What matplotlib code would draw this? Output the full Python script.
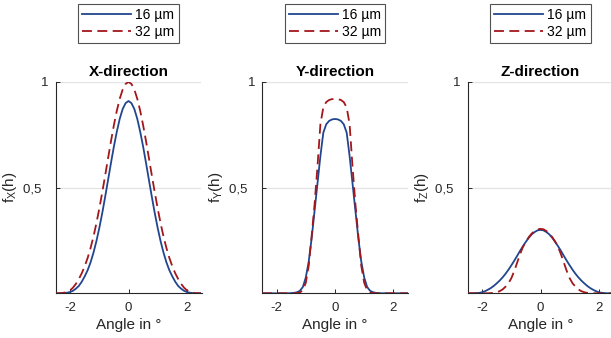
import matplotlib
matplotlib.use('Agg')
import matplotlib.pyplot as plt

plt.rcParams['font.family'] = ['Liberation Sans', 'DejaVu Sans']
plt.rcParams['mathtext.fontset'] = 'custom'
plt.rcParams['mathtext.rm'] = 'Liberation Sans'
plt.rcParams['axes.unicode_minus'] = False

# -----------------------
# data
# -----------------------
angle = [-2.5, -2.4, -2.3, -2.2, -2.1, -2.0, -1.9, -1.8, -1.7, -1.6, -1.5, -1.4, -1.3,
         -1.2, -1.1, -1.0, -0.9, -0.8, -0.7, -0.6, -0.5, -0.4, -0.3, -0.2, -0.1, 0.0,
         0.1, 0.2, 0.3, 0.4, 0.5, 0.6, 0.7, 0.8, 0.9, 1.0, 1.1, 1.2, 1.3,
         1.4, 1.5, 1.6, 1.7, 1.8, 1.9, 2.0, 2.1, 2.2, 2.3, 2.4, 2.5]

x_16 = [0.000, 0.000, 0.000, 0.001, 0.003, 0.006, 0.012, 0.022, 0.035, 0.055, 0.080, 0.109, 0.146,
        0.192, 0.246, 0.309, 0.379, 0.456, 0.536, 0.617, 0.695, 0.765, 0.826, 0.872, 0.900, 0.910,
        0.900, 0.872, 0.826, 0.765, 0.695, 0.617, 0.536, 0.456, 0.379, 0.309, 0.246, 0.192, 0.146,
        0.109, 0.080, 0.055, 0.035, 0.022, 0.012, 0.006, 0.003, 0.001, 0.000, 0.000, 0.000]
x_32 = [0.000, 0.000, 0.001, 0.003, 0.007, 0.014, 0.027, 0.045, 0.068, 0.095, 0.128, 0.167, 0.214,
        0.268, 0.331, 0.401, 0.477, 0.557, 0.639, 0.720, 0.796, 0.864, 0.921, 0.964, 0.991, 1.000,
        0.991, 0.964, 0.921, 0.864, 0.796, 0.720, 0.639, 0.557, 0.477, 0.401, 0.331, 0.268, 0.214,
        0.167, 0.128, 0.095, 0.068, 0.045, 0.027, 0.014, 0.007, 0.003, 0.001, 0.000, 0.000]

y_16 = [0.000, 0.000, 0.000, 0.000, 0.000, 0.000, 0.000, 0.000, 0.000, 0.000, 0.001, 0.002, 0.005,
        0.012, 0.030, 0.075, 0.150, 0.260, 0.390, 0.520, 0.650, 0.760, 0.800, 0.816, 0.823, 0.825,
        0.823, 0.816, 0.800, 0.760, 0.650, 0.520, 0.390, 0.260, 0.150, 0.075, 0.030, 0.012, 0.005,
        0.002, 0.001, 0.000, 0.000, 0.000, 0.000, 0.000, 0.000, 0.000, 0.000, 0.000, 0.000]
y_32 = [0.000, 0.000, 0.000, 0.000, 0.000, 0.000, 0.000, 0.000, 0.000, 0.000, 0.000, 0.000, 0.001,
        0.004, 0.015, 0.050, 0.130, 0.270, 0.420, 0.600, 0.800, 0.880, 0.905, 0.915, 0.919, 0.920,
        0.919, 0.915, 0.905, 0.880, 0.800, 0.600, 0.420, 0.270, 0.130, 0.050, 0.015, 0.004, 0.001,
        0.000, 0.000, 0.000, 0.000, 0.000, 0.000, 0.000, 0.000, 0.000, 0.000, 0.000, 0.000]

z_16 = [0.000, 0.000, 0.000, 0.001, 0.002, 0.005, 0.010, 0.017, 0.025, 0.035, 0.047, 0.060, 0.075,
        0.092, 0.111, 0.132, 0.154, 0.177, 0.201, 0.223, 0.244, 0.263, 0.279, 0.290, 0.298, 0.300,
        0.298, 0.290, 0.279, 0.263, 0.244, 0.223, 0.201, 0.177, 0.154, 0.132, 0.111, 0.092, 0.075,
        0.060, 0.047, 0.035, 0.025, 0.017, 0.010, 0.005, 0.002, 0.001, 0.000, 0.000, 0.000]
z_32 = [0.000, 0.000, 0.000, 0.000, 0.000, 0.000, 0.000, 0.000, 0.001, 0.002, 0.005, 0.010, 0.018,
        0.031, 0.047, 0.071, 0.105, 0.145, 0.185, 0.220, 0.245, 0.266, 0.283, 0.295, 0.303, 0.305,
        0.303, 0.295, 0.283, 0.266, 0.245, 0.220, 0.185, 0.145, 0.105, 0.071, 0.047, 0.031, 0.018,
        0.010, 0.005, 0.002, 0.001, 0.000, 0.000, 0.000, 0.000, 0.000, 0.000, 0.000, 0.000]

titles = ['X-direction', 'Y-direction', 'Z-direction']
ylabels = [r'$\mathregular{f_X(h)}$', r'$\mathregular{f_Y(h)}$', r'$\mathregular{f_Z(h)}$']
labels = ['16 µm', '32 µm']
xticks = [-2, 0, 2]
yticks = [0.5, 1]
yticklabels = ['0,5  ', '1']

BLUE = '#21468f'
RED = '#a3171b'
DARK = '#262626'

fig = plt.figure(figsize=(6.11, 3.38), dpi=100)

# axes left edges in pixels (the third one runs past the right border, as in the source)
lefts = [55.5, 262.0, 467.5]
W, H = 611.0, 338.0

series = [(x_16, x_32), (y_16, y_32), (z_16, z_32)]

for k in range(3):
    ax = fig.add_axes([lefts[k] / W, (H - 293.3) / H, 146.0 / W, 211.3 / H])
    s16, s32 = series[k]
    ax.plot(angle, s16, color=BLUE, lw=1.3, label=labels[0], zorder=3)
    ax.plot(angle, s32, color=RED, lw=1.3, ls=(0, (5.5, 3.0)), label=labels[1], zorder=3)

    ax.set_xlim(-2.5, 2.5)
    ax.set_ylim(0, 1)
    ax.set_xticks(xticks)
    ax.set_yticks(yticks)
    ax.set_yticklabels(yticklabels)
    ax.tick_params(direction='in', length=3, width=0.7, colors=DARK, labelsize=9.5, pad=5)
    ax.tick_params(axis='x', pad=6)
    ax.yaxis.grid(True, color='#e3e3e3', lw=0.9, zorder=0)
    ax.set_axisbelow(True)

    for side in ['top', 'right']:
        ax.spines[side].set_visible(False)
    for side in ['left', 'bottom']:
        ax.spines[side].set_color(DARK)
        ax.spines[side].set_linewidth(0.8)

    ax.set_title(titles[k], fontsize=11, fontweight='bold', color='black', pad=4.5)
    ax.set_xlabel('Angle in °', fontsize=11, color=DARK, labelpad=3)
    ax.set_ylabel(ylabels[k], fontsize=11, color=DARK, labelpad=3)

    leg = ax.legend(loc='lower center', bbox_to_anchor=(0.5, 1.183), borderaxespad=0,
                    fontsize=10, frameon=True, fancybox=False, handlelength=3.5,
                    handletextpad=0.3, labelspacing=0.25, borderpad=0.3)
    leg.get_frame().set_edgecolor(DARK)
    leg.get_frame().set_linewidth(0.8)
    for t in leg.get_texts():
        t.set_color('black')

fig.savefig('out.png', dpi=100)
